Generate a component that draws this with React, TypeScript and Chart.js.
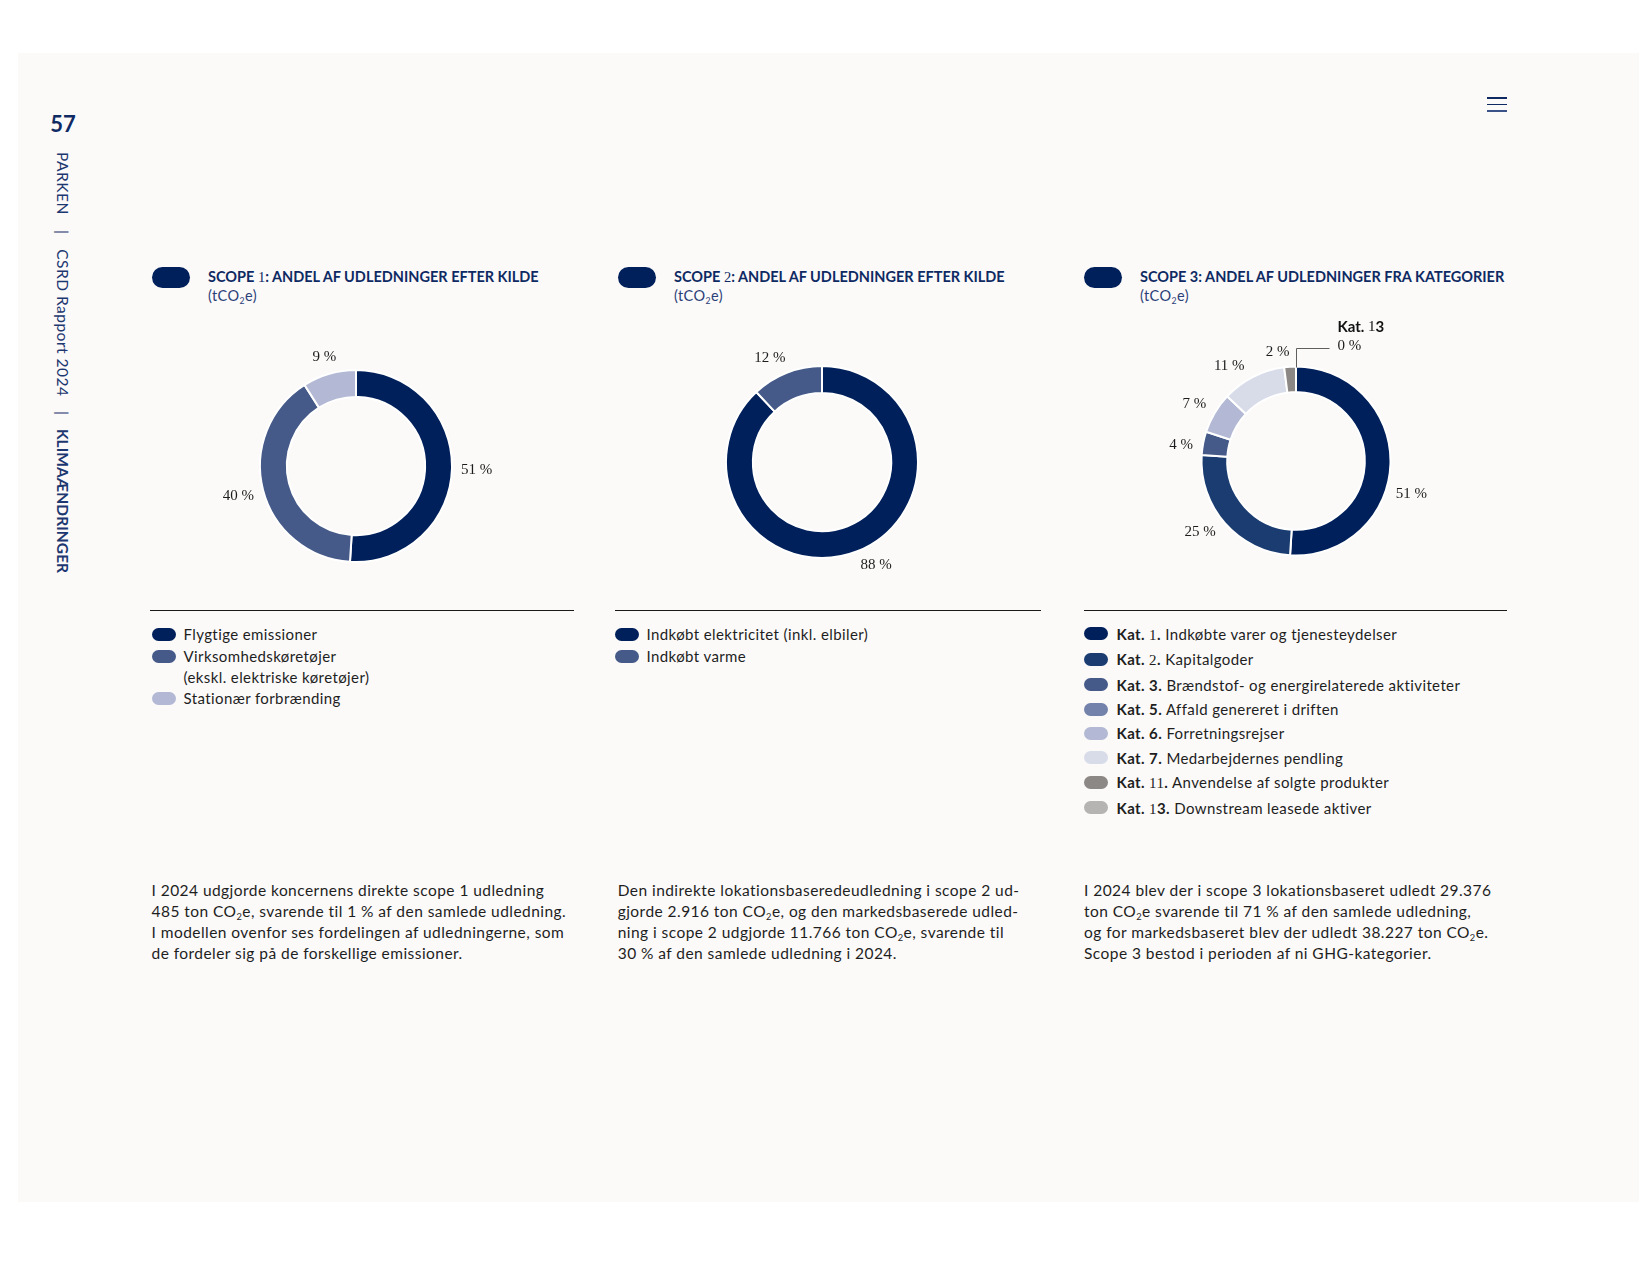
import React, { useEffect, useRef } from 'react';
import { Chart, registerables } from 'chart.js';

Chart.register(...registerables);

const SANS = 'Lato, "Open Sans", sans-serif';
const SERIF = '"Liberation Serif", "Times New Roman", serif';
const NAVY = '#0f2a63';
const INK = '#1e1e1e';

// Scope 1 – sources
const scope1Categories = ['Flygtige emissioner', 'Virksomhedskøretøjer\n(ekskl. elektriske køretøjer)', 'Stationær forbrænding'];
const scope1Values = [51, 40, 9];
const scope1Colors = ['#00205b', '#455a89', '#b3b9d4'];

// Scope 2 – sources
const scope2Categories = ['Indkøbt elektricitet (inkl. elbiler)', 'Indkøbt varme'];
const scope2Values = [88, 12];
const scope2Colors = ['#00205b', '#455a89'];

// Scope 3 – GHG categories
const scope3Codes = ['1', '2', '3', '5', '6', '7', '11', '13'];
const scope3Categories = [
  'Indkøbte varer og tjenesteydelser',
  'Kapitalgoder',
  'Brændstof- og energirelaterede aktiviteter',
  'Affald genereret i driften',
  'Forretningsrejser',
  'Medarbejdernes pendling',
  'Anvendelse af solgte produkter',
  'Downstream leasede aktiver',
];
const scope3Values = [51, 25, 4, 0, 7, 11, 2, 0];
const scope3Colors = ['#00205b', '#1a3c70', '#455a89', '#7382ab', '#b3b9d4', '#d8dce9', '#8c8886', '#b5b4b2'];

// how each slice gets its value label: on the ring, hidden, or via a leader line
const scope3LabelModes = ['ring', 'ring', 'ring', 'none', 'ring', 'ring', 'ring', 'callout'];
// small angular nudges (degrees) so labels sit clear of neighbours
const scope1LabelNudge = [0, 0, 0];
const scope2LabelNudge = [-6, -5];
const scope3LabelNudge = [14, 5, -3, 0, -1.5, -8, -6, 0];

function drawSerifDigitText(ctx: CanvasRenderingContext2D, text: string, x: number, y: number, size: number) {
  const parts = text.split(/([12])/);
  let cx = x;
  parts.forEach((p, i) => {
    if (!p) return;
    ctx.font = i % 2 === 1 ? `400 ${size}px ${SERIF}` : `700 ${size}px ${SANS}`;
    ctx.fillText(p, cx, y);
    cx += ctx.measureText(p).width;
  });
}

const ringLabels = {
  id: 'ringLabels',
  afterDatasetsDraw(chart: any, _args: any, opts: any) {
    const ctx: CanvasRenderingContext2D = chart.ctx;
    const meta = chart.getDatasetMeta(0);
    const values = chart.data.datasets[0].data as number[];
    const size = opts.size || 15;
    meta.data.forEach((el: any, i: number) => {
      const mode = (opts.modes && opts.modes[i]) || 'ring';
      if (mode === 'none') return;
      const { x, y, startAngle, endAngle, outerRadius } = el.getProps(['x', 'y', 'startAngle', 'endAngle', 'outerRadius'], true);
      const text = `${values[i]} %`;
      ctx.save();
      ctx.fillStyle = '#1c1c1c';
      ctx.textBaseline = 'middle';
      ctx.font = `${size}px ${SERIF}`;
      if (mode === 'callout') {
        const a = startAngle;
        const px = Math.round(x + Math.cos(a) * (outerRadius - 1)) + 0.5;
        const py = y + Math.sin(a) * (outerRadius - 1);
        const elbowY = Math.round(py - 20) + 0.5;
        ctx.strokeStyle = '#5f5f5f';
        ctx.lineWidth = 1;
        ctx.beginPath();
        ctx.moveTo(px, py);
        ctx.lineTo(px, elbowY);
        ctx.lineTo(px + 33, elbowY);
        ctx.stroke();
        ctx.textAlign = 'left';
        ctx.fillText(text, px + 41, elbowY - 2);
        if (opts.calloutTitle) {
          ctx.fillStyle = '#111111';
          drawSerifDigitText(ctx, opts.calloutTitle, px + 41, elbowY - 21, size);
        }
      } else {
        const nudge = ((opts.nudges && opts.nudges[i]) || 0) * Math.PI / 180;
        const mid = (startAngle + endAngle) / 2 + nudge;
        const c = Math.cos(mid);
        const s = Math.sin(mid);
        const w = ctx.measureText(text).width;
        const h = size * 0.66;
        const r = outerRadius + (opts.gap || 9) + Math.abs(c) * w / 2 + Math.abs(s) * h / 2;
        ctx.textAlign = 'center';
        ctx.fillText(text, x + c * r, y + s * r);
      }
      ctx.restore();
    });
  },
};

const CANVAS_W = 360;
const CANVAS_H = 300;

type DonutProps = {
  cx: number;
  cy: number;
  labels: string[];
  values: number[];
  colors: string[];
  radius: number;
  cutout: string;
  modes?: string[];
  nudges?: number[];
  calloutTitle?: string;
};

function Donut({ cx, cy, labels, values, colors, radius, cutout, modes, nudges, calloutTitle }: DonutProps) {
  const ref = useRef<HTMLCanvasElement>(null);
  useEffect(() => {
    const chart = new Chart(ref.current as HTMLCanvasElement, {
      type: 'doughnut',
      data: {
        labels,
        datasets: [
          {
            data: values,
            backgroundColor: colors,
            borderColor: '#ffffff',
            borderWidth: 2,
            radius,
            cutout,
          } as any,
        ],
      },
      options: {
        responsive: false,
        maintainAspectRatio: false,
        animation: false,
        events: [],
        layout: { padding: 0 },
        plugins: {
          legend: { display: false },
          tooltip: { enabled: false },
          ringLabels: { modes, nudges, size: 15, gap: 9, calloutTitle },
        } as any,
      },
      plugins: [ringLabels as any],
    });
    return () => chart.destroy();
  }, []);
  return (
    <canvas
      ref={ref}
      width={CANVAS_W}
      height={CANVAS_H}
      style={{ position: 'absolute', left: cx - CANVAS_W / 2, top: cy - CANVAS_H / 2, width: CANVAS_W, height: CANVAS_H }}
    />
  );
}

function SerifDigits({ text }: { text: string }) {
  const parts = text.split(/([12])/);
  return (
    <>
      {parts.map((p, i) =>
        i % 2 === 1 ? (
          <span key={i} style={{ fontFamily: SERIF, fontWeight: 400 }}>{p}</span>
        ) : (
          <span key={i}>{p}</span>
        )
      )}
    </>
  );
}

function Co2() {
  return (
    <>
      CO<sub style={{ fontSize: '0.6em', verticalAlign: '-0.3em', lineHeight: 0 }}>2</sub>e
    </>
  );
}

function Pill({ x, y, w, h, color }: { x: number; y: number; w: number; h: number; color: string }) {
  return <div style={{ position: 'absolute', left: x, top: y, width: w, height: h, borderRadius: h / 2, background: color }} />;
}

function Heading({ x, title }: { x: number; title: string }) {
  return (
    <>
      <Pill x={x} y={267} w={38} h={21} color="#00205b" />
      <div style={{ position: 'absolute', left: x + 56, top: 268, color: NAVY, whiteSpace: 'nowrap' }}>
        <div style={{ fontSize: 14.5, fontWeight: 700, lineHeight: '18px' }}>
          <SerifDigits text={title} />
        </div>
        <div style={{ fontSize: 14.5, lineHeight: '20px', color: '#2b3f78', letterSpacing: 0.4 }}>
          (t<Co2 />)
        </div>
      </div>
    </>
  );
}

const LEGEND_SPACING = 0.4;

function SimpleLegend({ x, top, rowH, items, colors }: { x: number; top: number; rowH: number; items: string[]; colors: string[] }) {
  return (
    <div style={{ position: 'absolute', left: x, top, color: INK, fontSize: 15, lineHeight: `${rowH}px`, letterSpacing: LEGEND_SPACING }}>
      {items.map((it, i) => (
        <div key={i} style={{ display: 'flex', alignItems: 'flex-start' }}>
          <div style={{ width: 24, height: 13, borderRadius: 6.5, background: colors[i], marginTop: (rowH - 13) / 2, flex: 'none' }} />
          <div style={{ marginLeft: 7.5, whiteSpace: 'pre-line' }}>{it}</div>
        </div>
      ))}
    </div>
  );
}

function Rule({ x1, x2 }: { x1: number; x2: number }) {
  return <div style={{ position: 'absolute', left: x1, top: 609.5, width: x2 - x1, height: 1.2, background: '#1a1a1a' }} />;
}

const paraStyle: React.CSSProperties = {
  position: 'absolute',
  top: 879.6,
  fontSize: 15.5,
  letterSpacing: 0.45,
  lineHeight: '21.3px',
  color: INK,
  whiteSpace: 'nowrap',
};

export default function App() {
  return (
    <div style={{ position: 'absolute', left: 0, top: 0, width: 1650, height: 1275, background: '#ffffff', fontFamily: SANS, overflow: 'hidden' }}>
      <div style={{ position: 'absolute', left: 18, top: 53, width: 1621, height: 1149, background: '#fbfaf9' }} />

      {/* page number and running header */}
      <div style={{ position: 'absolute', left: 43, width: 40, top: 110, textAlign: 'center', fontSize: 22, fontWeight: 700, color: NAVY, lineHeight: '28px' }}>57</div>
      <div
        style={{
          position: 'absolute',
          left: 52.5,
          top: 152,
          writingMode: 'vertical-rl',
          fontSize: 15.5,
          letterSpacing: 0.5,
          lineHeight: '20px',
          color: '#1d3770',
          whiteSpace: 'nowrap',
        }}
      >
        PARKEN<span style={{ margin: '15px 0' }}>|</span>CSRD Rapport 2024<span style={{ margin: '14px 0' }}>|</span>
        <span style={{ fontWeight: 700, letterSpacing: 0.05 }}>KLIMAÆNDRINGER</span>
      </div>

      {/* menu icon */}
      {[98, 104.5, 111].map((y, i) => (
        <div key={i} style={{ position: 'absolute', left: 1487, top: y - 0.75, width: 20, height: 1.6, background: i === 2 ? '#3b5288' : '#0f2a63' }} />
      ))}

      <Heading x={152} title="SCOPE 1: ANDEL AF UDLEDNINGER EFTER KILDE" />
      <Heading x={618} title="SCOPE 2: ANDEL AF UDLEDNINGER EFTER KILDE" />
      <Heading x={1084} title="SCOPE 3: ANDEL AF UDLEDNINGER FRA KATEGORIER" />

      <Donut cx={356} cy={466} labels={scope1Categories} values={scope1Values} colors={scope1Colors} radius={96} cutout="72%" nudges={scope1LabelNudge} />
      <Donut cx={822} cy={462} labels={scope2Categories} values={scope2Values} colors={scope2Colors} radius={96} cutout="72%" nudges={scope2LabelNudge} />
      <Donut
        cx={1296}
        cy={461}
        labels={scope3Categories}
        values={scope3Values}
        colors={scope3Colors}
        radius={94.5}
        cutout="72.8%"
        modes={scope3LabelModes}
        nudges={scope3LabelNudge}
        calloutTitle={`Kat. ${scope3Codes[7]}`}
      />

      <Rule x1={150} x2={574} />
      <Rule x1={615} x2={1041} />
      <Rule x1={1084} x2={1507} />

      <SimpleLegend x={152} top={624.4} rowH={21.2} items={scope1Categories} colors={scope1Colors} />
      <SimpleLegend x={615} top={624.4} rowH={21.2} items={scope2Categories} colors={scope2Colors} />

      <div style={{ position: 'absolute', left: 1084, top: 621.7, color: INK, fontSize: 15, lineHeight: '24.4px', letterSpacing: LEGEND_SPACING }}>
        {scope3Categories.map((name, i) => (
          <div key={i} style={{ display: 'flex', alignItems: 'flex-start', whiteSpace: 'nowrap' }}>
            <div style={{ width: 24, height: 13, borderRadius: 6.5, background: scope3Colors[i], marginTop: 5.7, flex: 'none' }} />
            <div style={{ marginLeft: 8.5 }}>
              <b>
                <SerifDigits text={`Kat. ${scope3Codes[i]}.`} />
              </b>{' '}
              {name}
            </div>
          </div>
        ))}
      </div>

      <div style={{ ...paraStyle, left: 151.5 }}>
        I 2024 udgjorde koncernens direkte scope 1 udledning
        <br />
        485 ton <Co2 />, svarende til 1 % af den samlede udledning.
        <br />
        I modellen ovenfor ses fordelingen af udledningerne, som
        <br />
        de fordeler sig på de forskellige emissioner.
      </div>
      <div style={{ ...paraStyle, left: 617.7 }}>
        Den indirekte lokationsbaseredeudledning i scope 2 ud-
        <br />
        gjorde 2.916 ton <Co2 />, og den markedsbaserede udled-
        <br />
        ning i scope 2 udgjorde 11.766 ton <Co2 />, svarende til
        <br />
        30 % af den samlede udledning i 2024.
      </div>
      <div style={{ ...paraStyle, left: 1084 }}>
        I 2024 blev der i scope 3 lokationsbaseret udledt 29.376
        <br />
        ton <Co2 /> svarende til 71 % af den samlede udledning,
        <br />
        og for markedsbaseret blev der udledt 38.227 ton <Co2 />.
        <br />
        Scope 3 bestod i perioden af ni GHG-kategorier.
      </div>
    </div>
  );
}
